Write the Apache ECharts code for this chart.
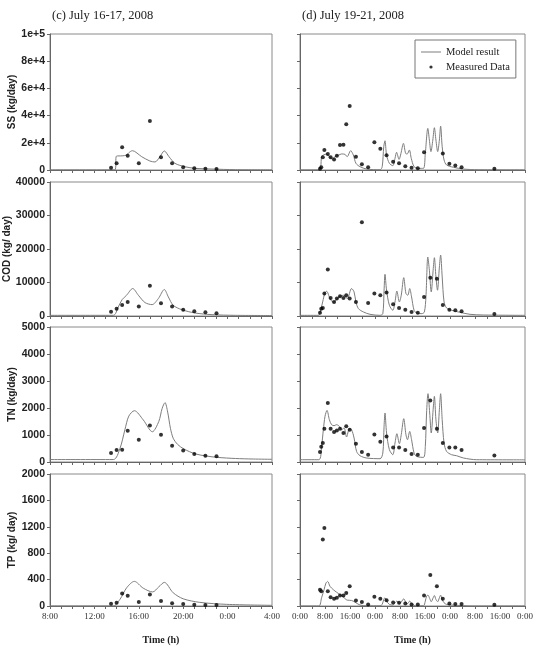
<!DOCTYPE html>
<html>
<head>
<meta charset="utf-8">
<script src="https://cdn.jsdelivr.net/npm/echarts@6.0.0/dist/echarts.min.js"></script>
<style>
  html, body { margin: 0; padding: 0; background: #fff; }
  #chart { width: 538px; height: 646px; }
</style>
</head>
<body>
<div id="chart"></div>
<script>
// measured data, (c) July 16-17 (hours from 0:00 July 16)
const leftMeasTime = [13.5, 14, 14.5, 15, 16, 17, 18, 19, 20, 21, 22, 23];
const leftSS = [1700, 4900, 16700, 10500, 4900, 36000, 9300, 4900, 2000, 1250, 1000, 700];
const leftCOD = [1300, 2200, 3300, 4200, 2800, 9050, 3800, 2800, 1900, 1400, 1100, 800];
const leftTN = [330, 444, 455, 1160, 826, 1356, 1010, 600, 430, 296, 233, 210];
const leftTP = [34, 50, 190, 155, 60, 175, 75, 40, 30, 20, 15, 15];

// measured data, (d) July 19-21 (hours from 0:00 July 19)
const rightMeasTime = [6.4, 6.8, 7.3, 7.8, 8.9, 9.8, 10.9, 11.8, 12.8, 13.9, 14.8, 15.9, 17.9, 19.8, 21.8, 23.8,
  25.7, 27.7, 29.8, 31.7, 33.7, 35.7, 37.7, 39.7, 41.7, 43.8, 45.7, 47.8, 49.7, 51.7, 62.2];
const rightSS = [950, 2000, 9300, 14700, 11800, 9300, 7800, 10500, 18400, 18600, 33600, 47000, 9800, 4200, 2000, 20400,
  15700, 10800, 6100, 4900, 2700, 1700, 1200, 13000, null, null, 12200, 4600, 3400, 2000, 1000];
const rightCOD = [1000, 2200, 2400, 6700, 13850, 5400, 4200, 5200, 5900, 5400, 6200, 5200, 4200, 28000, 3900, 6700,
  6200, 7000, 3500, 2400, 1900, 1200, 1000, 5700, 11450, 11150, 3300, 1900, 1700, 1400, 600];
const rightTN = [370, 567, 700, 1233, 2185, 1233, 1110, 1170, 1233, 1074, 1320, 1196, 678, 370, 270, 1022,
  752, 948, 541, 541, 444, 296, 270, 1259, 2282, 1233, 700, 541, 541, 444, 244];
const rightTP = [247, 223, 1007, 1181, 223, 134, 109, 124, 158, 158, 198, 298, 84, 60, 24, 139,
  109, 89, 54, 49, 39, 24, 24, 158, 471, 298, 109, 39, 30, 30, 19];

// model result [hour, value]
const ssModelC = [[8, 100], [13.85, 100], [14.0, 10300], [14.5, 10400], [14.9, 11000], [15.1, 12700], [15.42, 14200],
  [16.26, 9800], [17.0, 6600], [17.46, 5900], [17.9, 9800], [18.3, 14000], [18.72, 9800], [19.26, 4900],
  [20.16, 2400], [21.06, 1250], [22.6, 700], [24.7, 250], [28, 100]];
const codModelC = [[8, 200], [13.7, 200], [14.15, 2700], [14.5, 4900], [14.9, 6200], [15.45, 8200], [15.96, 6200],
  [16.56, 4000], [17.2, 3400], [17.76, 5200], [18.3, 7900], [18.66, 5700], [19.1, 3200], [19.86, 1900],
  [21.06, 900], [22.6, 400], [24.7, 200], [28, 150]];
const tnModelC = [[8, 90], [13.7, 90], [14.3, 500], [14.75, 1200], [15.1, 1700], [15.6, 1900], [16.4, 1560],
  [17.22, 1120], [17.8, 1500], [18.1, 1980], [18.36, 2200], [18.6, 1850], [18.85, 1250], [19.1, 880],
  [19.5, 650], [20.07, 480], [21.1, 300], [22.1, 220], [23.1, 170], [24.7, 130], [26.3, 110], [28, 100]];
const tpModelC = [[8, 0], [13.7, 0], [14.3, 100], [14.9, 275], [15.6, 373], [16.4, 270], [17.25, 213], [17.8, 290],
  [18.3, 358], [19.1, 200], [20.0, 109], [21.5, 55], [23.9, 25], [28, 10]];

const ssModelD = [[0, 100], [5.8, 100], [6.6, 2450], [6.9, 9800], [7.47, 11000], [8.5, 11800], [9.4, 9800], [10.24, 8100],
  [11.2, 9800], [12.27, 10800], [13.3, 11800], [14.4, 11500], [15.1, 9800], [16.2, 14200], [17.07, 11000],
  [17.9, 4900], [19.2, 2450], [21.3, 700], [25.6, 200], [26.3, 2400], [26.8, 17100], [27.2, 21500], [27.7, 11000],
  [28.6, 4900], [29.7, 3200], [30.4, 8600], [30.9, 13000], [31.7, 7800], [32.3, 12200], [33.1, 19600],
  [33.8, 12200], [34.3, 11800], [35.0, 14700], [35.6, 8600], [36.5, 2450], [37.9, 1200], [39.5, 1200],
  [40.1, 12200], [40.9, 30600], [41.4, 22000], [41.9, 13500], [42.5, 22000], [43.0, 31100], [43.5, 22000],
  [44.06, 13500], [44.6, 22000], [45.0, 32300], [45.5, 17100], [46.1, 7350], [46.9, 3700], [49.1, 2000],
  [52.3, 700], [57, 200], [72, 100]];
const codModelD = [[0, 200], [5.9, 200], [6.4, 1000], [7.25, 4200], [8.0, 7000], [8.53, 7370], [9.6, 5200],
  [10.67, 4100], [11.7, 4900], [12.8, 5900], [13.9, 6200], [15.1, 5200], [16.5, 8200], [17.3, 7200], [17.9, 4200],
  [18.7, 2200], [20.3, 1200], [22.4, 500], [25.6, 200], [26.5, 700], [26.9, 7700], [27.2, 12450], [27.7, 7700],
  [28.6, 3200], [29.7, 1700], [30.4, 4200], [31.0, 7450], [31.8, 4200], [32.4, 6200], [33.2, 11450], [33.9, 6700],
  [34.5, 6200], [35.1, 8200], [35.7, 5700], [36.5, 1700], [37.3, 900], [39.0, 700], [39.8, 1200], [40.3, 5700],
  [40.9, 17600], [41.4, 13650], [42.0, 7200], [42.6, 13650], [43.0, 17400], [43.5, 11650], [44.0, 7700],
  [44.6, 14600], [45.0, 18200], [45.5, 11650], [46.1, 4200], [46.9, 2400], [48.5, 1700], [51.2, 1100],
  [54.4, 500], [58.7, 300], [72, 200]];
const tnModelD = [[0, 85], [6.0, 85], [6.9, 578], [7.47, 1196], [8.0, 1690], [8.64, 1911], [9.4, 1567], [10.1, 1382],
  [10.9, 1345], [11.7, 1382], [12.6, 1320], [13.3, 1196], [14.1, 1259], [14.9, 926], [15.8, 1222], [16.5, 1196],
  [17.3, 889], [18.1, 393], [19.2, 233], [21.3, 148], [25.6, 122], [26.5, 333], [26.9, 1320], [27.2, 1815],
  [27.7, 1074], [28.6, 456], [29.7, 270], [30.4, 703], [31.0, 1048], [31.8, 678], [32.4, 1011], [33.2, 1604],
  [33.9, 1011], [34.4, 826], [35.1, 1134], [35.7, 826], [36.5, 333], [37.3, 207], [39.5, 170], [40.1, 578],
  [40.5, 1815], [40.96, 2530], [41.5, 1815], [42.0, 1074], [42.6, 1937], [43.0, 2430], [43.5, 1567],
  [44.06, 1074], [44.6, 1937], [45.0, 2530], [45.5, 1567], [46.1, 703], [46.9, 393], [48.5, 270], [50.1, 233],
  [52.3, 148], [56.5, 85], [72, 80]];
const tpModelD = [[0, 0], [6.0, 0], [6.9, 124], [7.7, 247], [8.3, 347], [8.85, 372], [9.6, 298], [10.67, 247],
  [11.7, 209], [12.8, 174], [13.9, 134], [15.1, 89], [16.5, 84], [17.9, 49], [19.2, 15], [21.3, 3], [25.6, 3],
  [26.3, 24], [26.8, 99], [27.2, 124], [27.7, 74], [28.6, 24], [29.7, 15], [30.4, 49], [31.0, 74], [31.8, 35],
  [32.4, 60], [33.2, 109], [33.9, 49], [34.4, 35], [35.1, 74], [35.7, 40], [36.5, 10], [37.3, 3], [39.5, 3],
  [40.1, 74], [40.5, 149], [40.96, 164], [41.5, 114], [42.0, 65], [42.6, 124], [43.0, 159], [43.5, 99],
  [44.06, 65], [44.6, 124], [45.0, 164], [45.5, 99], [46.1, 49], [46.9, 24], [48.5, 15], [50.1, 10],
  [52.3, 5], [55, 0], [72, 0]];

// axis tick labels
const ssTickLabels = ['0', '2e+4', '4e+4', '6e+4', '8e+4', '1e+5'];
const codTickLabels = ['0', '10000', '20000', '30000', '40000'];
const tnTickLabels = ['0', '1000', '2000', '3000', '4000', '5000'];
const tpTickLabels = ['0', '400', '800', '1200', '1600', '2000'];
const leftTimeLabels = ['8:00', '12:00', '16:00', '20:00', '0:00', '4:00'];
const rightTimeLabels = ['0:00', '8:00', '16:00', '0:00', '8:00', '16:00', '0:00', '8:00', '16:00', '0:00'];

const serif = "'Liberation Serif', 'DejaVu Serif', serif";
const sans = "'Liberation Sans', Arial, sans-serif";

const panels = [
  { name: 'SS (kg/day)', max: 100000, step: 20000, ticks: ssTickLabels, top: 34, height: 136,
    c: leftSS, d: rightSS, mc: ssModelC, md: ssModelD },
  { name: 'COD (kg/ day)', max: 40000, step: 10000, ticks: codTickLabels, top: 182, height: 134,
    c: leftCOD, d: rightCOD, mc: codModelC, md: codModelD },
  { name: 'TN (kg/day)', max: 5000, step: 1000, ticks: tnTickLabels, top: 327, height: 135,
    c: leftTN, d: rightTN, mc: tnModelC, md: tnModelD },
  { name: 'TP (kg/ day)', max: 2000, step: 400, ticks: tpTickLabels, top: 474, height: 134,
    c: leftTP, d: rightTP, mc: tpModelC, md: tpModelD }
];

function range (a, b, s) {
  let out = []
  for (let v = a; v <= b; v += s) out.push(v)
  return out
}

let grids = [], xAxes = [], yAxes = [], series = []
panels.forEach((p, i) => {
  let last = i === panels.length - 1
  ;['c', 'd'].forEach((side) => {
    let left = side === 'c'
    let idx = grids.length
    grids.push({
      left: left ? 50 : 300, width: left ? 222 : 225, top: p.top, height: p.height,
      show: true, borderColor: '#8a8a8a', borderWidth: 1, backgroundColor: '#fff'
    })
    xAxes.push({
      type: 'value', gridIndex: idx,
      min: left ? 8 : 0, max: left ? 28 : 72, interval: left ? 4 : 8,
      axisLine: { show: true, lineStyle: { color: '#666' } },
      axisTick: { show: true, length: 3, lineStyle: { color: '#666' },
        customValues: left ? range(8, 28, 1) : range(0, 72, 4) },
      axisLabel: {
        show: last, margin: 6, fontFamily: serif, fontSize: 9, color: '#333',
        formatter: left
          ? (v) => leftTimeLabels[Math.round((v - 8) / 4)]
          : (v) => rightTimeLabels[Math.round(v / 8)]
      },
      splitLine: { show: false },
      name: last ? 'Time (h)' : '', nameLocation: 'middle', nameGap: 29,
      nameTextStyle: { fontFamily: serif, fontSize: 10, fontWeight: 'bold', color: '#222' }
    })
    yAxes.push({
      type: 'value', gridIndex: idx, min: 0, max: p.max, interval: p.step,
      axisLine: { show: true, lineStyle: { color: '#666' } },
      axisTick: { show: true, length: 3, lineStyle: { color: '#666' } },
      axisLabel: {
        show: left, margin: 5, fontFamily: sans, fontSize: 10.5, fontWeight: 'bold', color: '#222',
        formatter: (v) => p.ticks[Math.round(v / p.step)]
      },
      splitLine: { show: false },
      name: left ? p.name : '', nameLocation: 'middle', nameGap: 33, nameRotate: 90,
      nameTextStyle: { fontFamily: sans, fontSize: 10, fontWeight: 'bold', color: '#222' }
    })
    series.push({
      name: 'Model result', type: 'line', xAxisIndex: idx, yAxisIndex: idx,
      data: left ? p.mc : p.md, showSymbol: false, symbol: 'none', smooth: 0.3,
      lineStyle: { color: '#7d7d7d', width: 1 }, itemStyle: { color: '#7d7d7d' },
      z: 2, animation: false
    })
    let times = left ? leftMeasTime : rightMeasTime
    let vals = left ? p.c : p.d
    series.push({
      name: 'Measured Data', type: 'scatter', xAxisIndex: idx, yAxisIndex: idx,
      data: times.map((t, k) => [t, vals[k]]).filter(d => d[1] !== null),
      symbolSize: 4, itemStyle: { color: '#000' }, z: 3, animation: false
    })
  })
})

let chart = echarts.init(document.getElementById('chart'))
chart.setOption({
  backgroundColor: '#fff',
  animation: false,
  title: [
    { text: '(c) July 16-17, 2008', left: 52, top: 9, padding: 0,
      textStyle: { fontFamily: serif, fontSize: 12.5, fontWeight: 'normal', color: '#222' } },
    { text: '(d) July 19-21, 2008', left: 302, top: 9, padding: 0,
      textStyle: { fontFamily: serif, fontSize: 12.5, fontWeight: 'normal', color: '#222' } }
  ],
  legend: {
    orient: 'vertical', left: 415, top: 40, padding: [6, 6, 5, 6],
    itemWidth: 20, itemHeight: 10, itemGap: 3,
    borderColor: '#777', borderWidth: 1, backgroundColor: '#fff',
    textStyle: { fontFamily: serif, fontSize: 10.5, color: '#222', lineHeight: 12 },
    data: [
      { name: 'Model result', icon: 'path://M0,0M20,10M0,4.5L20,4.5L20,5.5L0,5.5Z' },
      { name: 'Measured Data', icon: 'path://M0,0M20,10M8.4,5a1.6,1.6,0,1,0,3.2,0a1.6,1.6,0,1,0,-3.2,0Z' }
    ]
  },
  grid: grids,
  xAxis: xAxes,
  yAxis: yAxes,
  series: series
})
</script>
</body>
</html>
